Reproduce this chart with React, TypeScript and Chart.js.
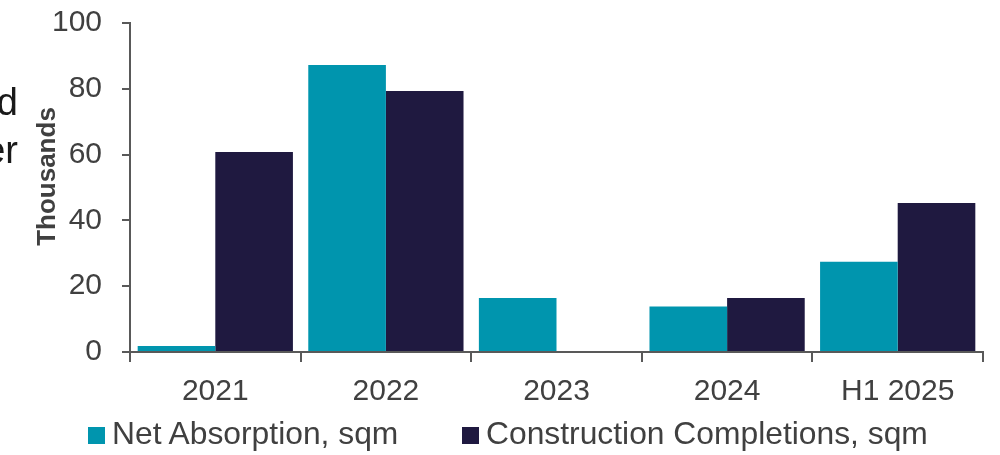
import React, { useEffect, useRef } from "react";
import { Chart, registerables } from "chart.js";

Chart.register(...registerables);

const categories = ["2021", "2022", "2023", "2024", "H1 2025"];
const netAbsorption = [1.8, 87.2, 16.4, 13.8, 27.4];
const constructionCompletions = [60.8, 79.3, 0, 16.4, 45.3];
const seriesNames = ["Net Absorption, sqm", "Construction Completions, sqm"];
const seriesColors = ["#0095AE", "#1F1940"];
const yMin = 0;
const yMax = 100;
const yStep = 20;
const axisTitle = "Thousands";
const sideText = ["d", "er"];

const FONT = "'Liberation Sans', Arial, sans-serif";
const TEXT = "#404040";
const AXIS = "#595959";

const titlePlugin = {
  id: "yTitle",
  afterDraw(chart: any) {
    const { ctx, chartArea } = chart;
    ctx.save();
    ctx.font = `bold 26px ${FONT}`;
    ctx.fillStyle = TEXT;
    ctx.textAlign = "center";
    ctx.textBaseline = "middle";
    ctx.translate(chartArea.left - 82, (chartArea.top + chartArea.bottom) / 2 - 11);
    ctx.rotate(-Math.PI / 2);
    ctx.fillText(axisTitle, 0, 0);
    ctx.restore();
  },
};

export default function App() {
  const ref = useRef<HTMLCanvasElement | null>(null);

  useEffect(() => {
    if (!ref.current) return;
    const chart = new Chart(ref.current, {
      type: "bar",
      data: {
        labels: categories,
        datasets: [
          {
            label: seriesNames[0],
            data: netAbsorption,
            backgroundColor: seriesColors[0],
            borderWidth: 0,
            categoryPercentage: 0.91,
            barPercentage: 1.0,
          },
          {
            label: seriesNames[1],
            data: constructionCompletions,
            backgroundColor: seriesColors[1],
            borderWidth: 0,
            categoryPercentage: 0.91,
            barPercentage: 1.0,
          },
        ],
      },
      options: {
        responsive: false,
        animation: false,
        layout: { padding: { left: 0, right: 17, top: 23, bottom: 43 } },
        plugins: {
          legend: { display: false },
          tooltip: { enabled: false },
        },
        scales: {
          x: {
            type: "category",
            offset: true,
            grid: {
              offset: true,
              drawOnChartArea: false,
              drawTicks: true,
              tickLength: 10,
              color: AXIS,
              lineWidth: 2,
            },
            border: { display: true, color: AXIS, width: 2 },
            ticks: {
              font: { family: FONT, size: 30 },
              color: TEXT,
              padding: 12,
              maxRotation: 0,
              autoSkip: false,
            },
            afterFit(scale: any) {
              scale.height = 60;
              scale.paddingLeft = 0;
              scale.paddingRight = 0;
            },
          },
          y: {
            min: yMin,
            max: yMax,
            grid: {
              drawOnChartArea: false,
              drawTicks: true,
              tickLength: 8,
              color: AXIS,
              lineWidth: 2,
            },
            border: { display: true, color: AXIS, width: 2 },
            ticks: {
              stepSize: yStep,
              font: { family: FONT, size: 30 },
              color: TEXT,
              padding: 20,
            },
            afterFit(scale: any) {
              scale.width = 130;
              scale.paddingTop = 0;
              scale.paddingBottom = 0;
            },
          },
        },
      },
      plugins: [titlePlugin],
    });
    return () => chart.destroy();
  }, []);

  return (
    <div
      style={{
        position: "absolute",
        left: 0,
        top: 0,
        width: 1000,
        height: 455,
        overflow: "hidden",
        background: "#fff",
        fontFamily: FONT,
      }}
    >
      <canvas ref={ref} width={1000} height={455} style={{ display: "block" }} />
      <div
        style={{
          position: "absolute",
          left: -200,
          top: 78,
          width: 218,
          textAlign: "right",
          fontSize: 38,
          lineHeight: "48px",
          color: "#1a1a1a",
        }}
      >
        {sideText.map((t) => (
          <div key={t}>{t}</div>
        ))}
      </div>
      {seriesNames.map((name, i) => (
        <React.Fragment key={name}>
          <div
            style={{
              position: "absolute",
              left: i === 0 ? 88 : 462,
              top: 427,
              width: 17,
              height: 17,
              background: seriesColors[i],
            }}
          />
          <div
            style={{
              position: "absolute",
              left: i === 0 ? 112 : 486,
              top: 418,
              fontSize: 31.8,
              lineHeight: "31px",
              color: TEXT,
              whiteSpace: "nowrap",
            }}
          >
            {name}
          </div>
        </React.Fragment>
      ))}
    </div>
  );
}
